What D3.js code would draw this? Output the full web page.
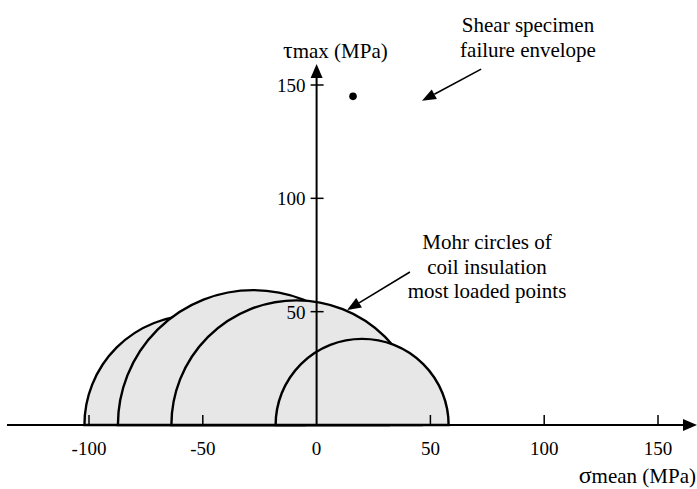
<!DOCTYPE html>
<html>
<head>
<meta charset="utf-8">
<script src="https://cdn.jsdelivr.net/npm/d3@7"></script>
<style>
  body { margin: 0; background: #fff; }
</style>
</head>
<body>
<div id="chart"></div>
<script>
// chart values
var xTicks = [-100, -50, 50, 100, 150]
var yTicks = [50, 100, 150]
var circleCentre = [-53.6, -27.8, -8.8, 20]   // sigma mean of each Mohr circle
var circleRadius = [48.4, 59.5, 55, 38]        // tau max of each Mohr circle
var envelopeSigma = [16]
var envelopeTau = [145]

var width = 697
    height = 489
var serif = "'Liberation Serif', 'Times New Roman', Times, 'DejaVu Serif', serif"

var svg = d3.select("#chart")
  .append("svg")
    .attr("width", width)
    .attr("height", height)
    .attr("font-family", serif)
    .style("font-family", serif)

var x = d3.scaleLinear().domain([-100, 150]).range([89, 658])
var y = d3.scaleLinear().domain([0, 150]).range([425, 85])

// Mohr circles, each drawn over the previous one
var circles = circleCentre.map(function(c, i) { return {c: c, r: circleRadius[i]} })
svg.selectAll(".mohr")
  .data(circles)
  .enter()
  .append("path")
    .attr("class", "mohr")
    .attr("d", function(d) {
      var rx = x(d.c + d.r) - x(d.c)
      var ry = y(0) - y(d.r)
      return "M" + x(d.c - d.r) + "," + y(0) +
             "A" + rx + "," + ry + " 0 0 1 " + x(d.c + d.r) + "," + y(0) + "Z"
    })
    .attr("fill", "#e7e7e7")
    .attr("stroke", "black")
    .attr("stroke-width", 2.4)

// axes
var x0 = x(0), y0 = y(0)
svg.append("line")
  .attr("x1", 7).attr("x2", 686).attr("y1", y0).attr("y2", y0)
  .attr("stroke", "black").attr("stroke-width", 2)
svg.append("path")
  .attr("d", "M697," + y0 + "L683," + (y0 - 6) + "L683," + (y0 + 6) + "Z")
svg.append("line")
  .attr("x1", x0).attr("x2", x0).attr("y1", y0).attr("y2", 75)
  .attr("stroke", "black").attr("stroke-width", 2)
svg.append("path")
  .attr("d", "M" + x0 + ",64L" + (x0 - 6) + ",78L" + (x0 + 6) + ",78Z")

// x ticks (pointing up) and labels
svg.selectAll(".xtick")
  .data(xTicks)
  .enter()
  .append("line")
    .attr("x1", function(d) { return x(d) }).attr("x2", function(d) { return x(d) })
    .attr("y1", y0).attr("y2", y0 - 10)
    .attr("stroke", "black").attr("stroke-width", 1.5)
svg.selectAll(".xlab")
  .data([-100, -50, 0, 50, 100, 150])
  .enter()
  .append("text")
    .attr("x", function(d) { return d == 0 ? x0 : x(d) })
    .attr("y", 455)
    .attr("text-anchor", "middle")
    .style("font-size", "19px")
    .text(function(d) { return d < 0 ? "-" + Math.abs(d) : d })

// y ticks (crossing) and labels
svg.selectAll(".ytick")
  .data(yTicks)
  .enter()
  .append("line")
    .attr("x1", x0 - 6).attr("x2", x0 + 7)
    .attr("y1", function(d) { return y(d) }).attr("y2", function(d) { return y(d) })
    .attr("stroke", "black").attr("stroke-width", 1.5)
svg.selectAll(".ylab")
  .data(yTicks)
  .enter()
  .append("text")
    .attr("x", x0 - 11)
    .attr("y", function(d) { return y(d) + 7 })
    .attr("text-anchor", "end")
    .style("font-size", "19px")
    .text(function(d) { return d })

// axis titles
svg.append("text")
  .attr("x", 283).attr("y", 58)
  .style("font-size", "21px")
  .html("<tspan style='font-size:24px'>τ</tspan>max (MPa)")
svg.append("text")
  .attr("x", 696).attr("y", 483)
  .attr("text-anchor", "end")
  .style("font-size", "21px")
  .html("<tspan style='font-size:24px'>σ</tspan>mean (MPa)")

// shear specimen failure point
svg.selectAll(".env")
  .data(envelopeSigma)
  .enter()
  .append("circle")
    .attr("cx", function(d) { return x(d) })
    .attr("cy", function(d, i) { return y(envelopeTau[i]) })
    .attr("r", 3.8)
    .attr("fill", "black")

// annotations
function arrow(x1, y1, x2, y2) {
  var a = Math.atan2(y2 - y1, x2 - x1), L = 14, W = 5.5
  var bx = x2 - L * Math.cos(a), by = y2 - L * Math.sin(a)
  svg.append("line")
    .attr("x1", x1).attr("y1", y1).attr("x2", bx).attr("y2", by)
    .attr("stroke", "black").attr("stroke-width", 1.6)
  svg.append("path")
    .attr("d", "M" + x2 + "," + y2 +
      "L" + (bx + W * Math.sin(a)) + "," + (by - W * Math.cos(a)) +
      "L" + (bx - W * Math.sin(a)) + "," + (by + W * Math.cos(a)) + "Z")
}
arrow(x(72.3), y(157), x(46.3), y(143))
arrow(x(41), y(67.5), x(13.4), y(50.7))

function label(lines, cx, by) {
  svg.selectAll(null)
    .data(lines)
    .enter()
    .append("text")
      .attr("x", cx)
      .attr("y", function(d, i) { return by + i * 24.5 })
      .attr("text-anchor", "middle")
      .style("font-size", "21px")
      .text(function(d) { return d })
}
label(["Shear specimen", "failure envelope"], 528, 32)
label(["Mohr circles of", "coil insulation", "most loaded points"], 487, 249)
</script>
</body>
</html>
